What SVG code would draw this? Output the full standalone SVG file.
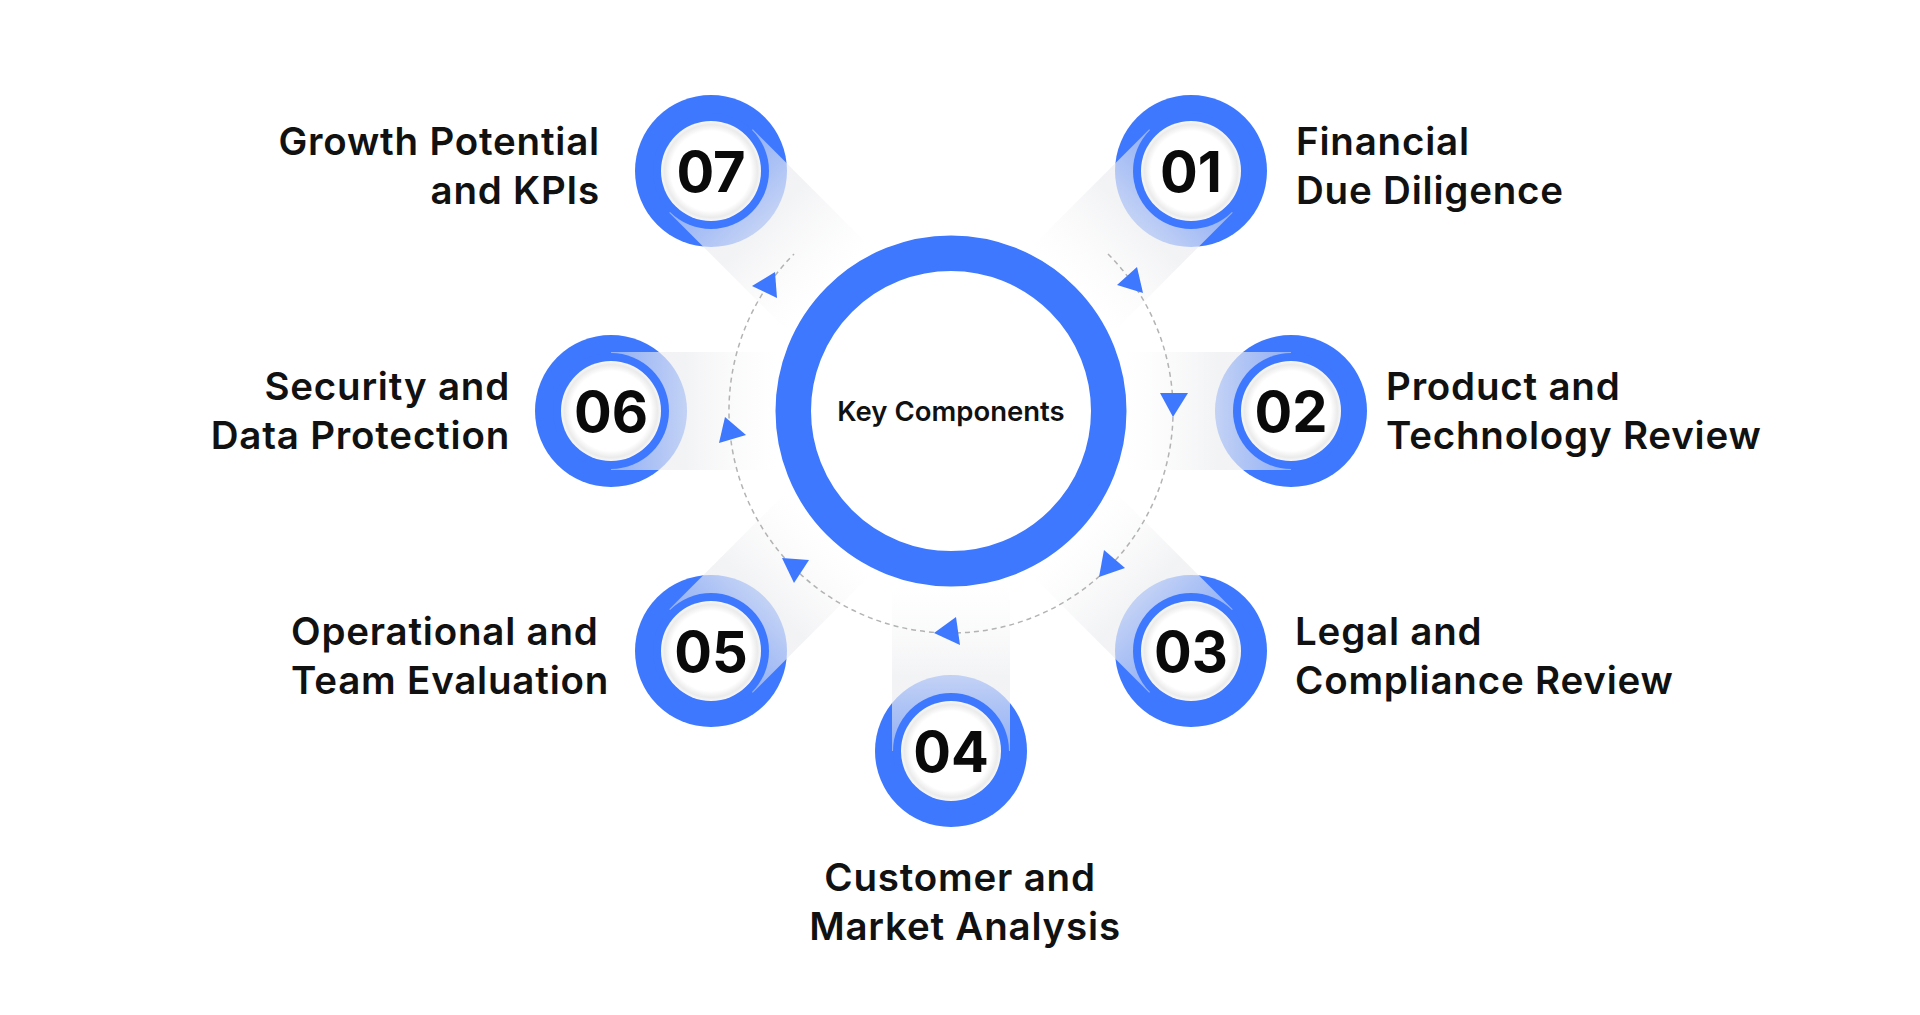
<svg xmlns="http://www.w3.org/2000/svg" width="1920" height="1015" viewBox="0 0 1920 1015">
<style>
.lbl{font-family:Inter,"Noto Sans",sans-serif;font-weight:600;font-size:38.5px;letter-spacing:0.8px;fill:#111}
.num{font-family:Inter,"Noto Sans",sans-serif;font-weight:700;font-size:56px;fill:#0a0a0a;text-anchor:middle}
.blue{fill:#3E78FE}
.tri{fill:#3E78FE}
</style>
<defs>
<linearGradient id="band" x1="0" y1="0" x2="1" y2="0">
<stop offset="0" stop-color="#e6e8ee" stop-opacity="0.5"/>
<stop offset="0.45" stop-color="#eeeff2" stop-opacity="0.75"/>
<stop offset="1" stop-color="#f6f6f6" stop-opacity="0"/>
</linearGradient>
<radialGradient id="wht" cx="0.5" cy="0.5" r="0.5">
<stop offset="0" stop-color="#ffffff"/>
<stop offset="0.8" stop-color="#ffffff"/>
<stop offset="0.93" stop-color="#ebebeb"/>
<stop offset="1" stop-color="#f8f8f8"/>
</radialGradient>
<rect id="bandr" x="0" y="-59" width="165" height="118" fill="url(#band)"/>
</defs>
<rect width="1920" height="1015" fill="#ffffff"/>

<g id="center">
<circle cx="951" cy="411" r="157.75" fill="#ffffff" stroke="#3E78FE" stroke-width="35.5"/>
<text x="951" y="421" font-family="Inter,'Noto Sans',sans-serif" font-weight="600" font-size="27.5" fill="#111" text-anchor="middle">Key Components</text>
</g>

<g id="node01">
<circle cx="1191" cy="171" r="76" class="blue"/>
<use href="#bandr" transform="translate(1191 171) rotate(135)"/>
<circle cx="1191" cy="171" r="58" class="blue"/>
<circle cx="1191" cy="171" r="50" fill="url(#wht)"/>
<text class="num" x="1191" y="192">01</text>
<text class="lbl" x="1296" y="155">Financial</text>
<text class="lbl" x="1296" y="204">Due Diligence</text>
</g>

<g id="node02">
<circle cx="1291" cy="411" r="76" class="blue"/>
<use href="#bandr" transform="translate(1291 411) rotate(180)"/>
<circle cx="1291" cy="411" r="58" class="blue"/>
<circle cx="1291" cy="411" r="50" fill="url(#wht)"/>
<text class="num" x="1291" y="432">02</text>
<text class="lbl" x="1386" y="400">Product and</text>
<text class="lbl" x="1386" y="449">Technology Review</text>
</g>

<g id="node03">
<circle cx="1191" cy="651" r="76" class="blue"/>
<use href="#bandr" transform="translate(1191 651) rotate(225)"/>
<circle cx="1191" cy="651" r="58" class="blue"/>
<circle cx="1191" cy="651" r="50" fill="url(#wht)"/>
<text class="num" x="1191" y="672">03</text>
<text class="lbl" x="1295" y="645">Legal and</text>
<text class="lbl" x="1295" y="694">Compliance Review</text>
</g>

<g id="node04">
<circle cx="951" cy="751" r="76" class="blue"/>
<use href="#bandr" transform="translate(951 751) rotate(270)"/>
<circle cx="951" cy="751" r="58" class="blue"/>
<circle cx="951" cy="751" r="50" fill="url(#wht)"/>
<text class="num" x="951" y="772">04</text>
<text class="lbl" x="960" y="891" text-anchor="middle">Customer and</text>
<text class="lbl" x="965" y="940" text-anchor="middle">Market Analysis</text>
</g>

<g id="node05">
<circle cx="711" cy="651" r="76" class="blue"/>
<use href="#bandr" transform="translate(711 651) rotate(315)"/>
<circle cx="711" cy="651" r="58" class="blue"/>
<circle cx="711" cy="651" r="50" fill="url(#wht)"/>
<text class="num" x="711" y="672">05</text>
<text class="lbl" x="291" y="645">Operational and</text>
<text class="lbl" x="291" y="694">Team Evaluation</text>
</g>

<g id="node06">
<circle cx="611" cy="411" r="76" class="blue"/>
<use href="#bandr" transform="translate(611 411) rotate(0)"/>
<circle cx="611" cy="411" r="58" class="blue"/>
<circle cx="611" cy="411" r="50" fill="url(#wht)"/>
<text class="num" x="611" y="432">06</text>
<text class="lbl" x="510" y="400" text-anchor="end">Security and</text>
<text class="lbl" x="510" y="449" text-anchor="end">Data Protection</text>
</g>

<g id="node07">
<circle cx="711" cy="171" r="76" class="blue"/>
<use href="#bandr" transform="translate(711 171) rotate(45)"/>
<circle cx="711" cy="171" r="58" class="blue"/>
<circle cx="711" cy="171" r="50" fill="url(#wht)"/>
<text class="num" x="711" y="192">07</text>
<text class="lbl" x="600" y="155" text-anchor="end">Growth Potential</text>
<text class="lbl" x="600" y="204" text-anchor="end">and KPIs</text>
</g>

<g id="connectors">
<path d="M 1108 254 A 222 222 0 1 1 794 254" fill="none" stroke="#b3b3b3" stroke-width="1.5" stroke-dasharray="5 4"/>
<polygon class="tri" points="752,286 775,272 777,298"/>
<polygon class="tri" points="1117,285 1137,267 1143,293"/>
<polygon class="tri" points="1160,393 1188,393 1173,417"/>
<polygon class="tri" points="1099,577 1104,550 1125,568"/>
<polygon class="tri" points="934,633 956,617 960,645"/>
<polygon class="tri" points="782,558 809,560 794,583"/>
<polygon class="tri" points="725,417 746,435 719,443"/>
</g>
</svg>
